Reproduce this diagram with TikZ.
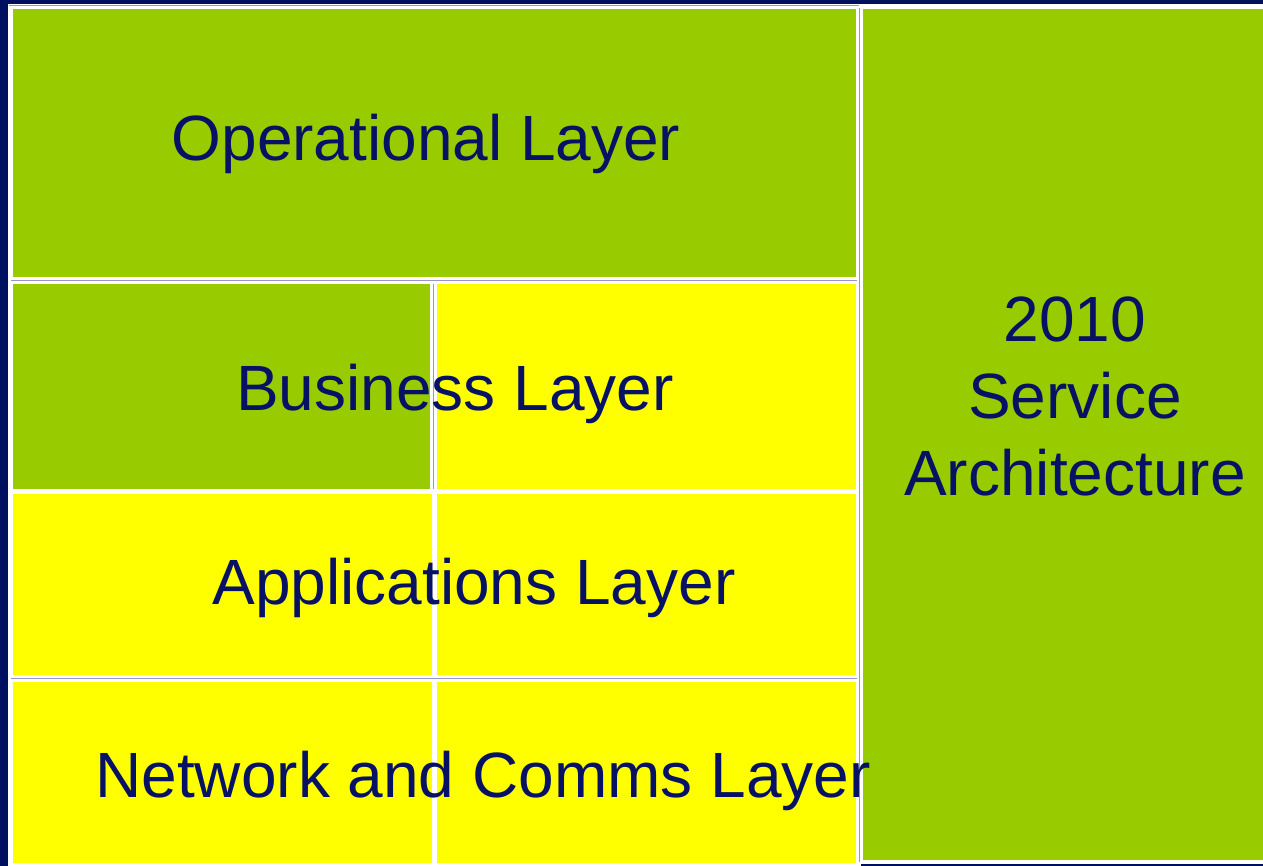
\documentclass[tikz,border=0pt]{standalone}
\usepackage{fontspec}
\setmainfont{Liberation Sans}
\definecolor{navy}{RGB}{0,16,96}
\definecolor{txtnavy}{RGB}{8,18,100}
\definecolor{lgreen}{RGB}{153,204,0}
\definecolor{lyellow}{RGB}{255,255,0}
\definecolor{lav}{RGB}{150,150,200}
\tikzset{
  panel/.style={draw=white, line width=3pt},
  greenpanel/.style={panel, fill=lgreen},
  yellowpanel/.style={panel, fill=lyellow},
  label/.style={text=txtnavy, font=\fontsize{64}{77}\selectfont, inner sep=0pt, anchor=base}
}
\begin{document}
\begin{tikzpicture}[x=1pt,y=-1pt]
\useasboundingbox (0,0) rectangle (1263,866);
\fill[navy] (0,0) rectangle (1263,866);
% white margin strip behind panels
\fill[white] (8,4) rectangle (1263,866);
\draw[lav, line width=1.2pt] (9,5.5) -- (859,5.5);
% panels
\draw[greenpanel] (11,8) rectangle (857,279) node[pos=0.5] (opbox) {};
\draw[greenpanel] (861,8) rectangle (1266,861) node[pos=0.5] (svcbox) {};
\draw[greenpanel] (11,283) rectangle (431,490) node[pos=0.5] (busl) {};
\draw[yellowpanel] (435,283) rectangle (857,490) node[pos=0.5] (busr) {};
\draw[yellowpanel] (11,492) rectangle (433,676) node[pos=0.5] (appl) {};
\draw[yellowpanel] (435,492) rectangle (857,676) node[pos=0.5] (appr) {};
\draw[yellowpanel] (11,680) rectangle (433,864) node[pos=0.5] (netl) {};
\draw[yellowpanel] (435,680) rectangle (857,864) node[pos=0.5] (netr) {};
% lavender hints between panels
\draw[lav, line width=1pt] (11,281) -- (857,281);
\draw[lav, line width=1pt] (433,284) -- (433,489);
\draw[lav, line width=1pt] (11,678) -- (857,678);
\draw[lav, line width=1pt] (859,8) -- (859,862);
\draw[navy, line width=2pt] (861,865) -- (1263,865);
% labels
\node[label] (optext) at (426,161) {Operational Layer};
\node[label] (bustext) at (455,410) {Business Layer};
\node[label] (apptext) at (474,604) {Applications Layer};
\node[label] (nettext) at (483,797) {Network and Comms Layer};
\node[label, align=center] (svctext) at (1075,495) {2010\\Service\\Architecture};
\end{tikzpicture}
\end{document}
